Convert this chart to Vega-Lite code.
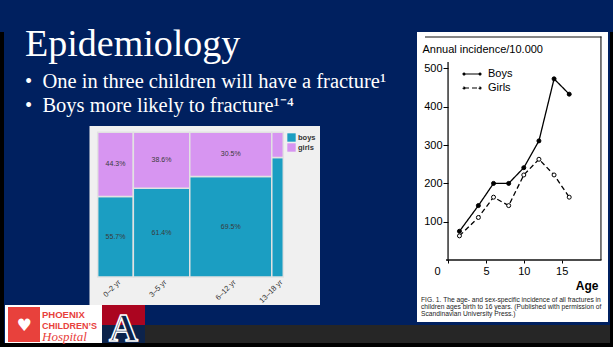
{
  "$schema": "https://vega.github.io/schema/vega-lite/v6.json",
  "background": "#00205f",
  "padding": {"left": 0, "top": 26, "right": 0, "bottom": 0},
  "spacing": 0,
  "config": {"view": {"stroke": null}, "font": "Liberation Sans"},
  "hconcat": [
    {
      "width": 417,
      "height": 315,
      "title": {
        "text": "Epidemiology",
        "subtitle": ["•\u2002One in three children will have a fracture¹", "•\u2002Boys more likely to fracture¹⁻⁴"],
        "anchor": "start",
        "dx": 25,
        "font": "Liberation Serif",
        "fontSize": 38,
        "fontWeight": "normal",
        "color": "white",
        "subtitleFont": "Liberation Serif",
        "subtitleFontSize": 20.5,
        "subtitleColor": "white",
        "subtitleLineHeight": 23.5,
        "subtitlePadding": 8,
        "offset": -84
      },
      "resolve": {"scale": {"x": "independent", "y": "independent"}},
      "layer": [
        {
          "data": {"values": [{}]},
          "layer": [
            {"mark": {"type": "rect", "fill": "#f0f0f0"}, "encoding": {"x": {"datum": 89.5, "type": "quantitative", "scale": {"domain": [0, 417], "nice": false, "zero": false}, "axis": null}, "x2": {"datum": 320}, "y": {"datum": 94, "type": "quantitative", "scale": {"domain": [0, 315], "reverse": true, "nice": false, "zero": false}, "axis": null}, "y2": {"datum": 273}}},
            {"mark": {"type": "rect", "fill": "#000000"}, "encoding": {"x": {"datum": 0, "type": "quantitative", "axis": null}, "x2": {"datum": 4}, "y": {"datum": 0, "type": "quantitative", "axis": null}, "y2": {"datum": 315}}},
            {"mark": {"type": "rect", "fill": "#262626"}, "encoding": {"x": {"datum": 145, "type": "quantitative", "axis": null}, "x2": {"datum": 417}, "y": {"datum": 293, "type": "quantitative", "axis": null}, "y2": {"datum": 311}}},
            {"mark": {"type": "rect", "fill": "#000000"}, "encoding": {"x": {"datum": 0, "type": "quantitative", "axis": null}, "x2": {"datum": 417}, "y": {"datum": 311, "type": "quantitative", "axis": null}, "y2": {"datum": 315}}},
            {"mark": {"type": "rect", "fill": "#ffffff"}, "encoding": {"x": {"datum": 5, "type": "quantitative", "axis": null}, "x2": {"datum": 145}, "y": {"datum": 273, "type": "quantitative", "axis": null}, "y2": {"datum": 311}}},
            {"mark": {"type": "rect", "fill": "#e8413c"}, "encoding": {"x": {"datum": 8, "type": "quantitative", "axis": null}, "x2": {"datum": 40}, "y": {"datum": 275, "type": "quantitative", "axis": null}, "y2": {"datum": 310}}},
            {"mark": {"type": "text", "fontSize": 17, "fill": "#ffffff", "align": "center", "baseline": "middle", "font": "DejaVu Sans"}, "encoding": {"x": {"datum": 24, "type": "quantitative", "axis": null}, "y": {"datum": 294, "type": "quantitative", "axis": null}, "text": {"value": "♥"}}},
            {"mark": {"type": "text", "fontSize": 9.5, "fontWeight": "bold", "fill": "#e8413c", "align": "left", "baseline": "middle"}, "encoding": {"x": {"datum": 42, "type": "quantitative", "axis": null}, "y": {"datum": 282.5, "type": "quantitative", "axis": null}, "text": {"value": "PHOENIX"}}},
            {"mark": {"type": "text", "fontSize": 9, "fontWeight": "bold", "fill": "#e8413c", "align": "left", "baseline": "middle"}, "encoding": {"x": {"datum": 42, "type": "quantitative", "axis": null}, "y": {"datum": 293.5, "type": "quantitative", "axis": null}, "text": {"value": "CHILDREN’S"}}},
            {"mark": {"type": "text", "fontSize": 13, "fontStyle": "italic", "font": "Liberation Serif", "fill": "#e8413c", "align": "left", "baseline": "middle"}, "encoding": {"x": {"datum": 42, "type": "quantitative", "axis": null}, "y": {"datum": 305, "type": "quantitative", "axis": null}, "text": {"value": "Hospital"}}},
            {"mark": {"type": "rect", "fill": "#ab0520"}, "encoding": {"x": {"datum": 102, "type": "quantitative", "axis": null}, "x2": {"datum": 145}, "y": {"datum": 273, "type": "quantitative", "axis": null}, "y2": {"datum": 293}}},
            {"mark": {"type": "rect", "fill": "#0c234b"}, "encoding": {"x": {"datum": 102, "type": "quantitative", "axis": null}, "x2": {"datum": 145}, "y": {"datum": 293, "type": "quantitative", "axis": null}, "y2": {"datum": 311}}},
            {"mark": {"type": "text", "fontSize": 40, "fontWeight": "bold", "font": "Liberation Serif", "fill": "#0c234b", "stroke": "#ffffff", "strokeWidth": 1.5, "align": "center", "baseline": "alphabetic"}, "encoding": {"x": {"datum": 123.5, "type": "quantitative", "axis": null}, "y": {"datum": 309, "type": "quantitative", "axis": null}, "text": {"value": "A"}}}
          ]
        },
        {
          "data": {"values": [
            {"age": "0–2 yr", "ageIdx": 1, "share": 19.2, "sex": "boys", "pct": 55.7},
            {"age": "0–2 yr", "ageIdx": 1, "share": 19.2, "sex": "girls", "pct": 44.3},
            {"age": "3–5 yr", "ageIdx": 2, "share": 30.4, "sex": "boys", "pct": 61.4},
            {"age": "3–5 yr", "ageIdx": 2, "share": 30.4, "sex": "girls", "pct": 38.6},
            {"age": "6–12 yr", "ageIdx": 3, "share": 44.2, "sex": "boys", "pct": 69.5},
            {"age": "6–12 yr", "ageIdx": 3, "share": 44.2, "sex": "girls", "pct": 30.5},
            {"age": "13–18 yr", "ageIdx": 4, "share": 6.2, "sex": "boys", "pct": 82.5},
            {"age": "13–18 yr", "ageIdx": 4, "share": 6.2, "sex": "girls", "pct": 17.5}
          ]},
          "transform": [
            {"calculate": "datum.share * datum.pct / 100", "as": "cnt"},
            {"stack": "cnt", "groupby": [], "as": ["sx0", "sx1"], "offset": "normalize", "sort": [{"field": "ageIdx", "order": "ascending"}, {"field": "sex", "order": "ascending"}]},
            {"window": [{"op": "min", "field": "sx0", "as": "x"}, {"op": "max", "field": "sx1", "as": "x2"}], "groupby": ["age"], "frame": [null, null]},
            {"stack": "pct", "groupby": ["age"], "as": ["y", "y2"], "offset": "normalize", "sort": [{"field": "sex", "order": "ascending"}]},
            {"calculate": "(datum.x + datum.x2) / 2", "as": "xm"},
            {"calculate": "(datum.y + datum.y2) / 2", "as": "ym"},
            {"calculate": "format(datum.pct, '.1f') + '%'", "as": "label"}
          ],
          "layer": [
            {
              "mark": {"type": "rect", "stroke": "#e2e2e2", "strokeWidth": 1.5},
              "encoding": {
                "x": {"field": "x", "type": "quantitative", "scale": {"domain": [-0.5264, 1.7204], "nice": false, "zero": false}, "axis": null},
                "x2": {"field": "x2"},
                "y": {"field": "y", "type": "quantitative", "scale": {"domain": [-0.4838, 1.6932], "nice": false, "zero": false}, "axis": null},
                "y2": {"field": "y2"},
                "color": {
                  "field": "sex", "type": "nominal",
                  "scale": {"domain": ["boys", "girls"], "range": ["#1b9ec2", "#d795f1"]},
                  "legend": {"orient": "none", "legendX": 287, "legendY": 101, "title": null, "symbolType": "square", "symbolSize": 70, "symbolStrokeWidth": 0, "labelFontSize": 7.5, "labelFontWeight": "bold", "labelColor": "#333", "labelOffset": 2, "rowPadding": 1, "padding": 0}
                }
              }
            },
            {
              "transform": [{"filter": "datum.x2 - datum.x > 0.1"}],
              "mark": {"type": "text", "fontSize": 7, "color": "#3a3a3a"},
              "encoding": {
                "x": {"field": "xm", "type": "quantitative", "axis": null},
                "y": {"field": "ym", "type": "quantitative", "axis": null},
                "text": {"field": "label"}
              }
            },
            {
              "transform": [{"filter": "datum.sex == 'boys'"}],
              "mark": {"type": "text", "fontSize": 7.5, "color": "#333", "angle": -45, "align": "right", "baseline": "middle", "xOffset": 4},
              "encoding": {
                "x": {"field": "xm", "type": "quantitative", "axis": null},
                "y": {"datum": -0.03, "axis": null},
                "text": {"field": "age"}
              }
            }
          ]
        }
      ]
    },
    {
      "width": 196,
      "height": 315,
      "title": {
        "text": ["FIG. 1. The age- and sex-specific incidence of all fractures in", "children ages birth to 16 years. (Published with permission of", "Scandinavian University Press.)"],
        "orient": "bottom",
        "anchor": "start",
        "offset": -50,
        "dx": 4,
        "font": "Liberation Sans",
        "fontSize": 6.7,
        "fontWeight": "normal",
        "color": "#222",
        "lineHeight": 6.8
      },
      "resolve": {"scale": {"x": "independent", "y": "independent"}},
      "layer": [
        {
          "data": {"values": [{}]},
          "layer": [
            {"mark": {"type": "rect", "fill": "#ffffff"}, "encoding": {"x": {"datum": 0, "type": "quantitative", "scale": {"domain": [0, 196], "nice": false, "zero": false}, "axis": null}, "x2": {"datum": 191}, "y": {"datum": 0, "type": "quantitative", "scale": {"domain": [0, 315], "reverse": true, "nice": false, "zero": false}, "axis": null}, "y2": {"datum": 290}}},
            {"mark": {"type": "rect", "fill": "#262626"}, "encoding": {"x": {"datum": 0, "type": "quantitative", "axis": null}, "x2": {"datum": 193}, "y": {"datum": 293, "type": "quantitative", "axis": null}, "y2": {"datum": 311}}},
            {"mark": {"type": "rect", "fill": "#000000"}, "encoding": {"x": {"datum": 193, "type": "quantitative", "axis": null}, "x2": {"datum": 196}, "y": {"datum": 0, "type": "quantitative", "axis": null}, "y2": {"datum": 315}}},
            {"mark": {"type": "rect", "fill": "#000000"}, "encoding": {"x": {"datum": 0, "type": "quantitative", "axis": null}, "x2": {"datum": 196}, "y": {"datum": 311, "type": "quantitative", "axis": null}, "y2": {"datum": 315}}},
            {"mark": {"type": "rect", "fill": "#111111"}, "encoding": {"x": {"datum": 30.4, "type": "quantitative", "axis": null}, "x2": {"datum": 31.7}, "y": {"datum": 30, "type": "quantitative", "axis": null}, "y2": {"datum": 229}}},
            {"mark": {"type": "rect", "fill": "#111111"}, "encoding": {"x": {"datum": 29, "type": "quantitative", "axis": null}, "x2": {"datum": 184.5}, "y": {"datum": 227.3, "type": "quantitative", "axis": null}, "y2": {"datum": 228.7}}},
            {"mark": {"type": "rect", "fill": "#111111"}, "encoding": {"x": {"datum": 183.4, "type": "quantitative", "axis": null}, "x2": {"datum": 184.5}, "y": {"datum": 4.5, "type": "quantitative", "axis": null}, "y2": {"datum": 228}}},
            {"mark": {"type": "rect", "fill": "#111111"}, "encoding": {"x": {"datum": 8, "type": "quantitative", "axis": null}, "x2": {"datum": 184.5}, "y": {"datum": 4.5, "type": "quantitative", "axis": null}, "y2": {"datum": 5.6}}}
          ]
        },
        {
          "data": {"values": [
            {"age": 1.5, "inc": 75, "sex": "Boys"},
            {"age": 4, "inc": 142, "sex": "Boys"},
            {"age": 6, "inc": 200, "sex": "Boys"},
            {"age": 8, "inc": 200, "sex": "Boys"},
            {"age": 10, "inc": 241, "sex": "Boys"},
            {"age": 12, "inc": 311, "sex": "Boys"},
            {"age": 14, "inc": 473, "sex": "Boys"},
            {"age": 16, "inc": 433, "sex": "Boys"},
            {"age": 1.5, "inc": 63, "sex": "Girls"},
            {"age": 4, "inc": 111, "sex": "Girls"},
            {"age": 6, "inc": 164, "sex": "Girls"},
            {"age": 8, "inc": 142, "sex": "Girls"},
            {"age": 10, "inc": 222, "sex": "Girls"},
            {"age": 12, "inc": 263, "sex": "Girls"},
            {"age": 14, "inc": 222, "sex": "Girls"},
            {"age": 16, "inc": 164, "sex": "Girls"}
          ]},
          "layer": [
            {
              "mark": {"type": "line", "color": "black", "strokeWidth": 1.3},
              "encoding": {
                "x": {"field": "age", "type": "quantitative", "scale": {"domain": [-4.108, 21.784], "nice": false, "zero": false},
                  "axis": {"zindex": 2, "orient": "bottom", "offset": -87, "values": [0, 5, 10, 15], "domain": false, "grid": false, "tickColor": "black", "tickSize": 3, "labelFontSize": 11, "labelColor": "black", "labelPadding": 2, "labelFlush": false,
                    "labelOffset": {"condition": {"test": "datum.value === 0", "value": -11}, "value": 0},
                    "title": "Age", "titleFontSize": 12, "titleFontWeight": "bold", "titleColor": "black", "titleAlign": "right", "titleBaseline": "middle", "titleX": 181, "titleY": 25}},
                "y": {"field": "inc", "type": "quantitative", "scale": {"domain": [-227.2, 595.3], "nice": false, "zero": false},
                  "axis": {"zindex": 2, "orient": "left", "offset": -31, "values": [100, 200, 300, 400, 500], "domain": false, "grid": false, "tickColor": "black", "tickSize": 5, "labelFontSize": 11, "labelColor": "black", "labelPadding": 1,
                    "title": "Annual incidence/10.000", "titleAngle": 0, "titleAlign": "left", "titleBaseline": "middle", "titleX": -26, "titleY": 17, "titleFontSize": 11, "titleFontWeight": "normal", "titleColor": "black"}},
                "strokeDash": {"field": "sex", "type": "nominal", "scale": {"domain": ["Boys", "Girls"], "range": [[1, 0], [5, 3]]},
                  "legend": {"orient": "none", "legendX": 463, "legendY": 33, "title": null, "symbolType": "M-1,0L1,0M-1.12,0a0.12,0.12 0 1,0 0.24,0a0.12,0.12 0 1,0 -0.24,0M0.88,0a0.12,0.12 0 1,0 0.24,0a0.12,0.12 0 1,0 -0.24,0", "symbolSize": 256, "symbolStrokeColor": "black", "symbolStrokeWidth": 1.2, "labelFontSize": 11, "labelColor": "black", "labelOffset": 7, "rowPadding": 0, "padding": 0}}
              }
            },
            {
              "mark": {"type": "point", "shape": "circle", "size": 16, "stroke": "black", "strokeWidth": 1, "opacity": 1},
              "encoding": {
                "x": {"field": "age", "type": "quantitative"},
                "y": {"field": "inc", "type": "quantitative"},
                "fill": {"field": "sex", "type": "nominal", "scale": {"domain": ["Boys", "Girls"], "range": ["black", "white"]}, "legend": {"orient": "none", "legendX": 463, "legendY": 33, "title": null, "symbolType": "M-1,0L1,0M-1.12,0a0.12,0.12 0 1,0 0.24,0a0.12,0.12 0 1,0 -0.24,0M0.88,0a0.12,0.12 0 1,0 0.24,0a0.12,0.12 0 1,0 -0.24,0", "symbolSize": 256, "symbolStrokeColor": "black", "symbolStrokeWidth": 1.2, "labelFontSize": 11, "labelColor": "black", "labelOffset": 7, "rowPadding": 0, "padding": 0}}
              }
            }
          ]
        }
      ]
    }
  ]
}
